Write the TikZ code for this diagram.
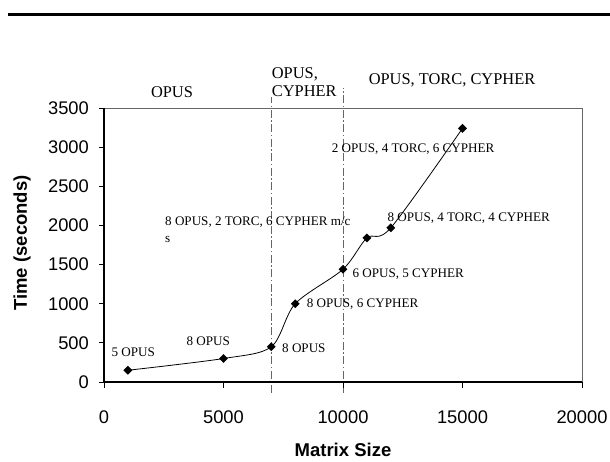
\documentclass[tikz,border=0pt]{standalone}
\usepackage{fontspec}
\setmainfont{Liberation Serif}
\setsansfont{Liberation Sans}
\usetikzlibrary{shapes.geometric}

\begin{document}
\begin{tikzpicture}[x=1pt,y=-1pt,
  lbl/.style={font=\fontsize{13.1}{16.7}\selectfont, inner sep=0, anchor=base west, align=left},
  region/.style={font=\fontsize{16.4}{18}\selectfont, inner sep=0},
  ticklbl/.style={font=\sffamily\fontsize{18.3}{20}\selectfont, inner sep=0},
  axtitle/.style={font=\sffamily\bfseries\fontsize{18.5}{20}\selectfont, inner sep=0},
  marker/.style={diamond, fill=black, inner sep=0, minimum size=9pt},
  sep/.style={draw=black!60, line width=1pt, dash pattern=on 8pt off 2.5pt on 1.5pt off 2.5pt},
]
\useasboundingbox (0,0) rectangle (610,461);

% rule above the chart
\draw[line width=2.7pt] (8,14.3) -- (610,14.3);

% regime separators
\draw[sep] (271.3,393) -- (271.3,96.7);
\draw[sep] (343,393) -- (343,88);

% plot frame and axes
\coordinate (tl) at (104,108);
\coordinate (tr) at (582,108);
\coordinate (br) at (582,382);
\coordinate (bl) at (104,382);
\draw[black!60, line width=1pt] (tl) -- (tr) -- (br);
\draw[line width=1.2pt] (tl) -- (bl) -- (br);

\begin{scope}[shift={(104,382)}, x=23.9pt, y=7.8286pt]
  % y ticks (hundreds of seconds)
  \foreach \v/\lab in {0/0,5/500,10/1000,15/1500,20/2000,25/2500,30/3000,35/3500} {
    \draw[line width=1pt] (0,\v) -- ++(-5.5pt,0);
    \node[ticklbl, anchor=east] at ([xshift=-15pt]0,\v) {\lab};
  }
  % x ticks (thousands)
  \foreach \v/\lab in {0/0,5/5000,10/10000,15/15000,20/20000} {
    \draw[line width=1pt] (\v,0) -- ++(0,-6pt);
    \node[ticklbl] at ([yshift=-34.7pt]\v,0) {\lab};
  }
  % measurements
  \coordinate (p1) at (1,1.5);
  \coordinate (p2) at (5,3);
  \coordinate (p3) at (7,4.5);
  \coordinate (p4) at (8,10);
  \coordinate (p5) at (10,14.4);
  \coordinate (p6) at (11,18.4);
  \coordinate (p7) at (12,19.7);
  \coordinate (p8) at (15,32.4);
\end{scope}

\draw[line width=0.8pt] plot[smooth, tension=0.5] coordinates {(p1) (p2) (p3) (p4) (p5) (p6) (p7) (p8)};
\foreach \i in {1,...,8} \node[marker] (m\i) at (p\i) {};

% axis titles
\node[axtitle] (xt) at (343,450) {Matrix Size};
\node[axtitle, rotate=90] (yt) at (22,243) {Time (seconds)};

% regime headers
\node[region] (r1) at (172,91.7) {OPUS};
\node[region, anchor=base west] (r2a) at (271.7,78.2) {OPUS,};
\node[region, anchor=base west] (r2b) at (271.7,96.2) {CYPHER};
\node[region] (r3) at (452,80) {OPUS, TORC, CYPHER};

% point annotations
\node[lbl, anchor=base] (l1) at (133.3,356) {5 OPUS};
\node[lbl, anchor=base] (l2) at (208.3,345.3) {8 OPUS};
\node[lbl] (l3) at (282,352) {8 OPUS};
\node[lbl] (l4) at (306.7,307.6) {8 OPUS, 6 CYPHER};
\node[lbl] (l5) at (352.3,277) {6 OPUS, 5 CYPHER};
\node[lbl] (l6) at (165,242.6) {8 OPUS, 2 TORC, 6 CYPHER m/c\\s};
\node[lbl] (l7) at (387.3,221) {8 OPUS, 4 TORC, 4 CYPHER};
\node[lbl] (l8) at (331.7,152) {2 OPUS, 4 TORC, 6 CYPHER};
\end{tikzpicture}
\end{document}
